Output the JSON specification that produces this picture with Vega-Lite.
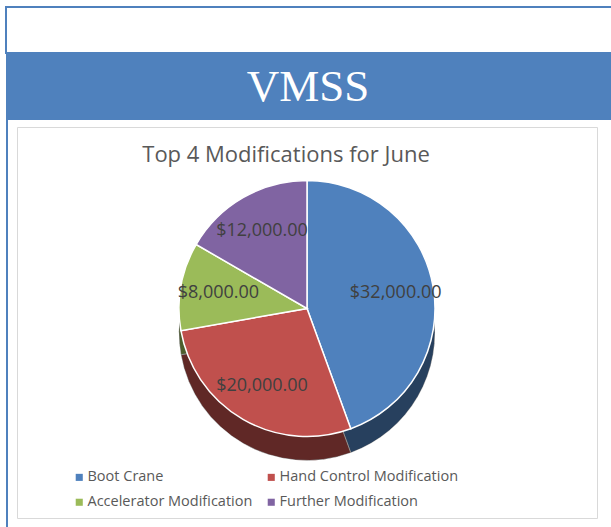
{
  "$schema": "https://vega.github.io/schema/vega-lite/v6.json",
  "background": "white",
  "padding": {"left": 5, "top": 6, "right": 0, "bottom": 0},
  "spacing": 0,
  "datasets": {
    "mods": [
      {"rank": 1, "modification": "Boot Crane", "amount": 32000},
      {"rank": 2, "modification": "Hand Control Modification", "amount": 20000},
      {"rank": 3, "modification": "Accelerator Modification", "amount": 8000},
      {"rank": 4, "modification": "Further Modification", "amount": 12000}
    ],
    "banner": [{"label": "VMSS"}],
    "blank": [{"label": ""}]
  },
  "vconcat": [
    {
      "width": 608, "height": 46,
      "view": {"stroke": "#4F81BD", "strokeWidth": 2, "fill": "white"},
      "data": {"name": "blank"},
      "mark": "text",
      "encoding": {"text": {"field": "label"}}
    },
    {
      "width": 608, "height": 66,
      "view": {"stroke": null, "fill": "#4F81BD"},
      "data": {"name": "banner"},
      "mark": {"type": "text", "font": "Liberation Serif", "fontSize": 45, "color": "white", "baseline": "middle", "align": "center", "dx": -2},
      "encoding": {"text": {"field": "label"}}
    },
    {
      "spacing": 8,
      "hconcat": [
        {
          "width": 2, "height": 409,
          "view": {"stroke": null, "fill": "#4F81BD"},
          "data": {"name": "blank"},
          "mark": {"type": "text", "fontSize": 1},
          "encoding": {"text": {"field": "label"}}
        },
        {
          "spacing": 0,
          "vconcat": [
            {
              "width": 580, "height": 6,
              "view": {"stroke": null},
              "data": {"name": "blank"},
              "mark": {"type": "text", "fontSize": 1},
              "encoding": {"text": {"field": "label"}}
            },
            {
              "width": 580, "height": 391,
              "view": {"stroke": "#D9D9D9", "fill": "white"},
              "title": {"text": "Top 4 Modifications for June", "offset": -40, "dx": -21, "fontSize": 22, "font": "Open Sans", "fontWeight": "normal", "color": "#595959", "anchor": "middle", "frame": "group", "baseline": "top"},
              "data": {"name": "mods"},
              "encoding": {
                "theta": {"field": "amount", "type": "quantitative", "stack": true},
                "order": {"field": "rank", "type": "ordinal"}
              },
              "layer": [
                {
                  "mark": {"type": "arc", "outerRadius": 128, "yOffset": 10, "stroke": "white", "strokeWidth": 1},
                  "encoding": {
                    "color": {
                      "field": "modification", "type": "nominal",
                      "scale": {"domain": ["Boot Crane", "Accelerator Modification", "Hand Control Modification", "Further Modification"], "range": ["#4F81BD", "#9BBB59", "#C0504D", "#8064A2"]},
                      "legend": {"title": null, "orient": "none", "legendX": 66, "legendY": 463, "columns": 2, "symbolType": "square", "symbolSize": 50, "symbolStrokeWidth": 0, "labelFont": "Open Sans", "labelFontSize": 14.5, "labelColor": "#595959", "labelLimit": 300, "columnPadding": 11, "rowPadding": 10, "labelOffset": 1}
                    }
                  }
                },
                {
                  "mark": {"type": "arc", "outerRadius": 128, "yOffset": 10, "fill": "black", "fillOpacity": 0.5, "strokeWidth": 0},
                  "encoding": {}
                },
                {
                  "mark": {"type": "arc", "outerRadius": 128, "yOffset": -14, "stroke": "white", "strokeWidth": 1.5},
                  "encoding": {
                    "color": {
                      "field": "modification", "type": "nominal",
                      "scale": {"domain": ["Boot Crane", "Accelerator Modification", "Hand Control Modification", "Further Modification"], "range": ["#4F81BD", "#9BBB59", "#C0504D", "#8064A2"]},
                      "legend": {"title": null, "orient": "none", "legendX": 66, "legendY": 463, "columns": 2, "symbolType": "square", "symbolSize": 50, "symbolStrokeWidth": 0, "labelFont": "Open Sans", "labelFontSize": 14.5, "labelColor": "#595959", "labelLimit": 300, "columnPadding": 11, "rowPadding": 10, "labelOffset": 1}
                    }
                  }
                },
                {
                  "mark": {"type": "text", "radius": 90, "yOffset": -14, "fontSize": 18, "font": "Open Sans", "color": "#404040"},
                  "encoding": {"text": {"field": "amount", "type": "quantitative", "format": "$,.2f"}}
                }
              ]
            }
          ]
        }
      ]
    }
  ]
}
